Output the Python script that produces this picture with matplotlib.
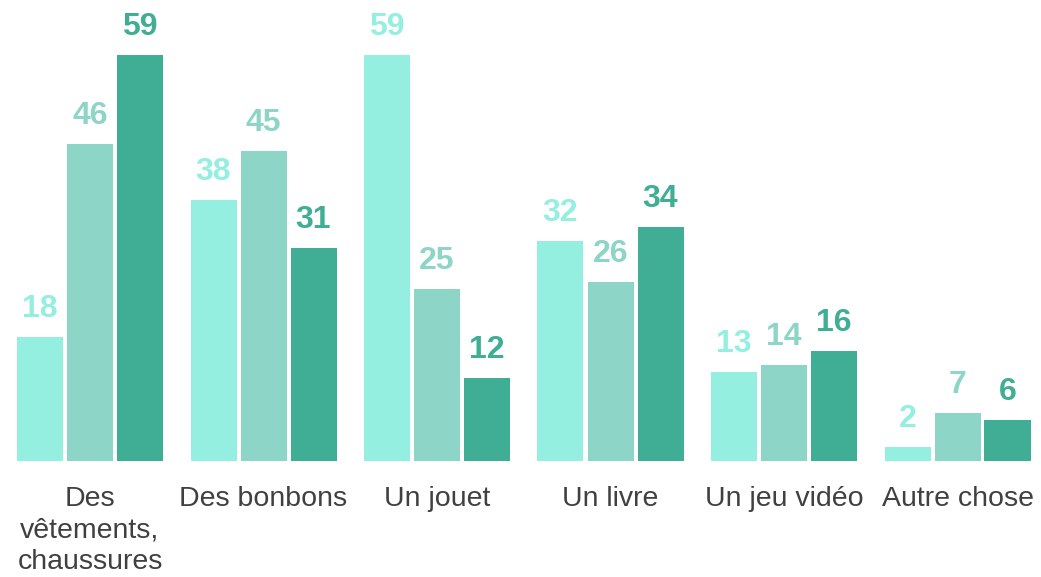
import matplotlib
matplotlib.use("Agg")
import matplotlib.pyplot as plt
import numpy as np

categories = ["Des\nvêtements,\nchaussures", "Des bonbons", "Un jouet",
              "Un livre", "Un jeu vidéo", "Autre chose"]
series_a = [18, 38, 59, 32, 13, 2]
series_b = [46, 45, 25, 26, 14, 7]
series_c = [59, 31, 12, 34, 16, 6]

colors = ["#95EFE1", "#8DD5C7", "#3FAE94"]

plt.rcParams["font.family"] = ["Liberation Sans", "DejaVu Sans"]

fig = plt.figure(figsize=(10.41, 5.77), dpi=100)
ax = fig.add_axes([0, 116 / 577, 1, 461 / 577])

x = np.arange(len(categories))
group = 173.5
pitch = 50 / group
width = 46 / group
for k, vals in enumerate([series_a, series_b, series_c]):
    pos = x + (k - 1) * pitch
    ax.bar(pos, vals, width=width, color=colors[k])
    for px, v in zip(pos, vals):
        ax.annotate(str(v), (px, v), xytext=(0, 14.4), textcoords="offset points",
                    ha="center", va="baseline", fontsize=23, fontweight="bold",
                    color=colors[k])

ax.set_xlim(-90 / group, (1041 - 90) / group)
ax.set_ylim(0, 461 / (406 / 59))
ax.set_xticks(x)
ax.set_xticklabels(categories, fontsize=20.5, color="#404040", linespacing=1.28, va="top")
ax.tick_params(axis="x", length=0, pad=18)
ax.set_yticks([])
for s in ax.spines.values():
    s.set_visible(False)
ax.patch.set_alpha(0)

fig.savefig("out.png", dpi=100)
